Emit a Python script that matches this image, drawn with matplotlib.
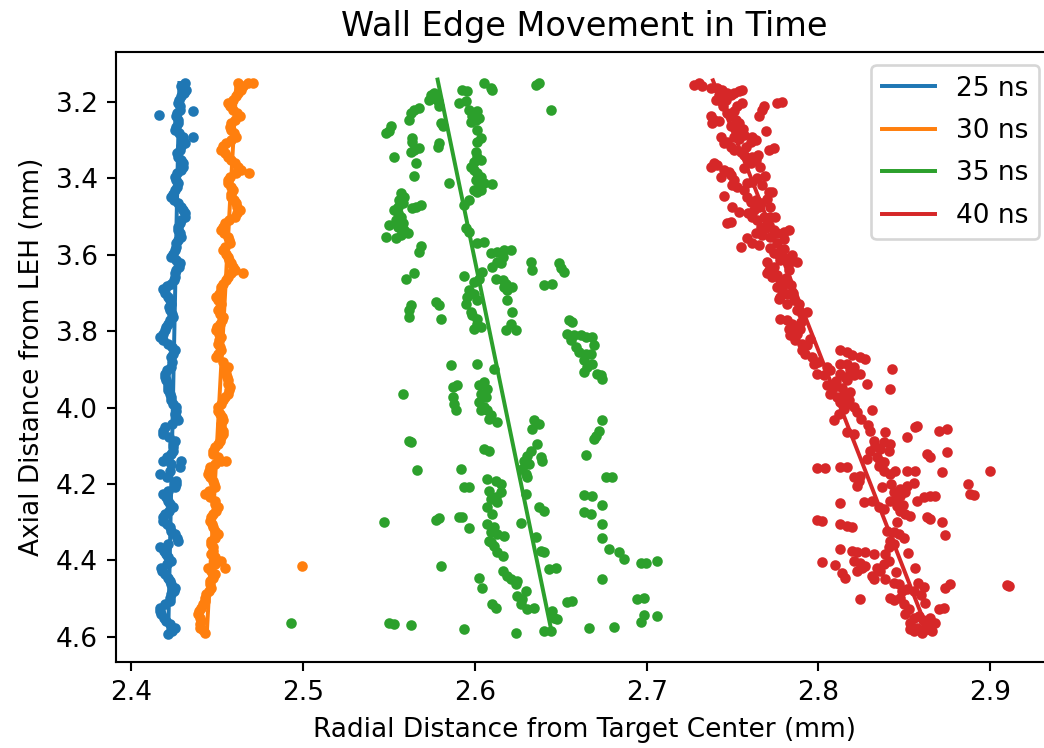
import numpy as np
import matplotlib
matplotlib.use('Agg')
import matplotlib.pyplot as plt

labels = ['25 ns', '30 ns', '35 ns', '40 ns']

# wall edge points (radial mm, axial mm)
pts_25 = [
    (2.4310, 3.151), (2.4320, 3.1685), (2.4291, 3.186), (2.4271, 3.2035), (2.4281, 3.221),
    (2.4359, 3.2254), (2.4262, 3.2385), (2.4271, 3.256), (2.4252, 3.2734), (2.4301, 3.291),
    (2.4359, 3.291), (2.4310, 3.3084), (2.4281, 3.3259), (2.4271, 3.3433), (2.4301, 3.3608),
    (2.4291, 3.3783), (2.4252, 3.3958), (2.4271, 3.4133), (2.4252, 3.4307), (2.4233, 3.4482),
    (2.4271, 3.4657), (2.4301, 3.4832), (2.4310, 3.5007), (2.4281, 3.5181), (2.4271, 3.5356),
    (2.4291, 3.5531), (2.4262, 3.5706), (2.4252, 3.5881), (2.4233, 3.6055), (2.4281, 3.6230),
    (2.4262, 3.6405), (2.4252, 3.6580), (2.4233, 3.6755), (2.4184, 3.6886), (2.4213, 3.7104),
    (2.4233, 3.7279), (2.4223, 3.7454), (2.4242, 3.7629), (2.4213, 3.7803), (2.4194, 3.7978),
    (2.4165, 3.8153), (2.4213, 3.8328), (2.4252, 3.8503), (2.4233, 3.8677), (2.4233, 3.8940),
    (2.4194, 3.9115), (2.4204, 3.9289), (2.4213, 3.9464), (2.4223, 3.9639), (2.4233, 3.9814),
    (2.4262, 3.9989), (2.4252, 4.0163), (2.4271, 4.0338), (2.4194, 4.0513), (2.4184, 4.0688),
    (2.4252, 4.0863), (2.4242, 4.1037), (2.4233, 4.1212), (2.4184, 4.1387), (2.4291, 4.1387),
    (2.4281, 4.1562), (2.4165, 4.1737), (2.4262, 4.1911), (2.4252, 4.2086), (2.4184, 4.2261),
    (2.4213, 4.2436), (2.4242, 4.2611), (2.4194, 4.2785), (2.4184, 4.2960), (2.4223, 4.3135),
    (2.4252, 4.3310), (2.4271, 4.3485), (2.4165, 4.3659), (2.4204, 4.3834), (2.4233, 4.4009),
    (2.4175, 4.4184), (2.4194, 4.4359), (2.4223, 4.4533), (2.4252, 4.4708), (2.4233, 4.4883),
    (2.4223, 4.5058), (2.4165, 4.5233), (2.4175, 4.5407), (2.4204, 4.5582), (2.4252, 4.5757),
    (2.4213, 4.5932), (2.4159, 3.2341),
]
band_25 = [
    (2.4292, 3.160), (2.4308, 3.177), (2.4278, 3.195), (2.4282, 3.212), (2.4268, 3.230),
    (2.4270, 3.247), (2.4258, 3.265), (2.4280, 3.282), (2.4300, 3.300), (2.4292, 3.317),
    (2.4268, 3.335), (2.4290, 3.352), (2.4300, 3.370), (2.4268, 3.387), (2.4258, 3.405),
    (2.4266, 3.422), (2.4240, 3.440), (2.4248, 3.457), (2.4290, 3.475), (2.4312, 3.492),
    (2.4292, 3.510), (2.4270, 3.527), (2.4286, 3.544), (2.4270, 3.562), (2.4262, 3.580),
    (2.4240, 3.597), (2.4260, 3.614), (2.4276, 3.632), (2.4254, 3.649), (2.4246, 3.667),
    (2.4206, 3.682), (2.4196, 3.700), (2.4226, 3.719), (2.4222, 3.737), (2.4236, 3.754),
    (2.4224, 3.772), (2.4200, 3.789), (2.4184, 3.807), (2.4186, 3.824), (2.4238, 3.842),
    (2.4240, 3.859), (2.4236, 3.881), (2.4210, 3.903), (2.4196, 3.920), (2.4212, 3.938),
    (2.4214, 3.955), (2.4230, 3.973), (2.4244, 3.990), (2.4260, 4.008), (2.4258, 4.025),
    (2.4236, 4.043), (2.4186, 4.060), (2.4222, 4.078), (2.4244, 4.095), (2.4240, 4.113),
    (2.4206, 4.130), (2.4232, 4.148), (2.4226, 4.165), (2.4210, 4.182), (2.4260, 4.200),
    (2.4214, 4.218), (2.4202, 4.235), (2.4224, 4.252), (2.4222, 4.270), (2.4186, 4.287),
    (2.4208, 4.305), (2.4234, 4.322), (2.4266, 4.340), (2.4214, 4.357), (2.4188, 4.375),
    (2.4214, 4.392), (2.4208, 4.410), (2.4180, 4.427), (2.4212, 4.445), (2.4234, 4.462),
    (2.4246, 4.480), (2.4224, 4.497), (2.4198, 4.515), (2.4166, 4.532), (2.4192, 4.550),
    (2.4224, 4.567), (2.4236, 4.585),
]

pts_30 = [
    (2.4620, 3.151), (2.4678, 3.151), (2.4707, 3.151), (2.4640, 3.1685), (2.4610, 3.186),
    (2.4562, 3.2035), (2.4591, 3.221), (2.4630, 3.2385), (2.4581, 3.256), (2.4581, 3.2734),
    (2.4610, 3.291), (2.4552, 3.3084), (2.4523, 3.3259), (2.4562, 3.3433), (2.4601, 3.3608),
    (2.4640, 3.3783), (2.4688, 3.3870), (2.4572, 3.3958), (2.4562, 3.4133), (2.4591, 3.4307),
    (2.4581, 3.4482), (2.4610, 3.4657), (2.4630, 3.4832), (2.4601, 3.5007), (2.4543, 3.5181),
    (2.4523, 3.5356), (2.4562, 3.5531), (2.4572, 3.5706), (2.4533, 3.5881), (2.4562, 3.6055),
    (2.4581, 3.6230), (2.4601, 3.6405), (2.4649, 3.6492), (2.4562, 3.6580), (2.4533, 3.6755),
    (2.4523, 3.6929), (2.4494, 3.7104), (2.4523, 3.7279), (2.4504, 3.7454), (2.4533, 3.7629),
    (2.4514, 3.7803), (2.4494, 3.7978), (2.4523, 3.8153), (2.4504, 3.8328), (2.4523, 3.8503),
    (2.4494, 3.8677), (2.4562, 3.8940), (2.4552, 3.9115), (2.4562, 3.9289), (2.4572, 3.9464),
    (2.4562, 3.9639), (2.4533, 3.9814), (2.4504, 3.9989), (2.4514, 4.0163), (2.4533, 4.0338),
    (2.4523, 4.0513), (2.4533, 4.0688), (2.4514, 4.0863), (2.4485, 4.1037), (2.4475, 4.1212),
    (2.4523, 4.1387), (2.4552, 4.1387), (2.4456, 4.1562), (2.4446, 4.1737), (2.4475, 4.1911),
    (2.4485, 4.2086), (2.4427, 4.2261), (2.4485, 4.2436), (2.4504, 4.2611), (2.4475, 4.2785),
    (2.4456, 4.2960), (2.4475, 4.3135), (2.4504, 4.3310), (2.4465, 4.3485), (2.4475, 4.3659),
    (2.4465, 4.3834), (2.4523, 4.4009), (2.4446, 4.4184), (2.4543, 4.4184), (2.4485, 4.4359),
    (2.4456, 4.4533), (2.4465, 4.4708), (2.4436, 4.4883), (2.4427, 4.5058), (2.4407, 4.5233),
    (2.4388, 4.5407), (2.4407, 4.5582), (2.4398, 4.5757), (2.4427, 4.5888), (2.4994, 4.414),
]
band_30 = [
    (2.4652, 3.160), (2.4622, 3.177), (2.4590, 3.195), (2.4572, 3.212), (2.4614, 3.230),
    (2.4602, 3.247), (2.4576, 3.265), (2.4600, 3.282), (2.4578, 3.300), (2.4534, 3.317),
    (2.4546, 3.335), (2.4578, 3.352), (2.4624, 3.370), (2.4610, 3.387), (2.4564, 3.405),
    (2.4580, 3.422), (2.4582, 3.440), (2.4600, 3.457), (2.4616, 3.475), (2.4618, 3.492),
    (2.4568, 3.510), (2.4536, 3.527), (2.4540, 3.544), (2.4570, 3.562), (2.4548, 3.580),
    (2.4552, 3.597), (2.4568, 3.614), (2.4594, 3.632), (2.4578, 3.649), (2.4552, 3.667),
    (2.4524, 3.684), (2.4512, 3.702), (2.4506, 3.719), (2.4518, 3.737), (2.4516, 3.754),
    (2.4526, 3.772), (2.4500, 3.789), (2.4512, 3.807), (2.4510, 3.824), (2.4518, 3.842),
    (2.4506, 3.859), (2.4532, 3.881), (2.4554, 3.903), (2.4560, 3.920), (2.4564, 3.938),
    (2.4570, 3.955), (2.4544, 3.973), (2.4522, 3.990), (2.4506, 4.008), (2.4526, 4.025),
    (2.4524, 4.043), (2.4532, 4.060), (2.4520, 4.078), (2.4502, 4.095), (2.4476, 4.113),
    (2.4502, 4.130), (2.4486, 4.148), (2.4454, 4.165), (2.4458, 4.182), (2.4482, 4.200),
    (2.4452, 4.218), (2.4460, 4.235), (2.4490, 4.252), (2.4494, 4.270), (2.4462, 4.287),
    (2.4468, 4.305), (2.4486, 4.322), (2.4488, 4.340), (2.4466, 4.357), (2.4474, 4.375),
    (2.4490, 4.392), (2.4488, 4.410), (2.4462, 4.427), (2.4474, 4.445), (2.4458, 4.462),
    (2.4454, 4.480), (2.4428, 4.497), (2.4420, 4.515), (2.4394, 4.532), (2.4402, 4.550),
    (2.4400, 4.567), (2.4416, 4.583),
]

pts_35 = [
    (2.5744, 3.1817), (2.5763, 3.1773), (2.5754, 3.1904), (2.5734, 3.1948), (2.5773, 3.1860),
    (2.5783, 3.1991), (2.6054, 3.1511), (2.6093, 3.1642), (2.6102, 3.1685), (2.5928, 3.1703),
    (2.5957, 3.1729), (2.6354, 3.1554), (2.6374, 3.1511), (2.6442, 3.2210), (2.5909, 3.2035),
    (2.5947, 3.1991), (2.5792, 3.2122), (2.5967, 3.2210), (2.5996, 3.2297), (2.6015, 3.2254),
    (2.5986, 3.2385), (2.6005, 3.2472), (2.6025, 3.2428), (2.5976, 3.2542), (2.5647, 3.2210),
    (2.5676, 3.2166), (2.5628, 3.2297), (2.5618, 3.2472), (2.5511, 3.2647), (2.5502, 3.2778),
    (2.5482, 3.2822), (2.5802, 3.2559), (2.5812, 3.2647), (2.6015, 3.2734), (2.6035, 3.2953),
    (2.6015, 3.3040), (2.5637, 3.2953), (2.5637, 3.3040), (2.5792, 3.3084), (2.5783, 3.3171),
    (2.5647, 3.3259), (2.5676, 3.3215), (2.5628, 3.3302), (2.6005, 3.3302), (2.6015, 3.3433),
    (2.6035, 3.3521), (2.5996, 3.3565), (2.5531, 3.3433), (2.5657, 3.3608), (2.5976, 3.3696),
    (2.5996, 3.3783), (2.6015, 3.3870), (2.6035, 3.3958), (2.6005, 3.4045), (2.6025, 3.4176),
    (2.6054, 3.4133), (2.6102, 3.4159), (2.5647, 3.3940), (2.5996, 3.4307), (2.6015, 3.4351),
    (2.6035, 3.4307), (2.5850, 3.4115), (2.5569, 3.4395), (2.5589, 3.4482), (2.5560, 3.4570),
    (2.5579, 3.4657), (2.5550, 3.4744), (2.5686, 3.4701), (2.5657, 3.4744), (2.5637, 3.4788),
    (2.5967, 3.4570), (2.5938, 3.4701), (2.5531, 3.4832), (2.5550, 3.4919), (2.5569, 3.5007),
    (2.5540, 3.5094), (2.5579, 3.5181), (2.5550, 3.5269), (2.5589, 3.5356), (2.5569, 3.5487),
    (2.5540, 3.5575), (2.5608, 3.5444), (2.5502, 3.5225), (2.5482, 3.5531), (2.5947, 3.5313),
    (2.5967, 3.5400), (2.6054, 3.5662), (2.6015, 3.5706), (2.5686, 3.5776), (2.5676, 3.5924),
    (2.6093, 3.5968), (2.6131, 3.5924), (2.6161, 3.6055), (2.6131, 3.6187), (2.6102, 3.6318),
    (2.6170, 3.5881), (2.6209, 3.5881), (2.6151, 3.6230), (2.6325, 3.6187), (2.6335, 3.6405),
    (2.6490, 3.6213), (2.6500, 3.6361), (2.6519, 3.6449), (2.5647, 3.6492), (2.5598, 3.6624),
    (2.5938, 3.6562), (2.6044, 3.6449), (2.6025, 3.6624), (2.5996, 3.6711), (2.6122, 3.6624),
    (2.6161, 3.6667), (2.6180, 3.6755), (2.6190, 3.6929), (2.6219, 3.6842), (2.6170, 3.6842),
    (2.6403, 3.6798), (2.6451, 3.6755), (2.5967, 3.6929), (2.5957, 3.7104), (2.5996, 3.7017),
    (2.6015, 3.7192), (2.5947, 3.7279), (2.5773, 3.7235), (2.5792, 3.7323), (2.6190, 3.7192),
    (2.5628, 3.7323), (2.5618, 3.7454), (2.5618, 3.7629), (2.5976, 3.7498), (2.5986, 3.7585),
    (2.6015, 3.7672), (2.6219, 3.7498), (2.5802, 3.7672), (2.6015, 3.7803), (2.5996, 3.7935),
    (2.6035, 3.7891), (2.6209, 3.7803), (2.6180, 3.7978), (2.6238, 3.7978), (2.6548, 3.7716),
    (2.6567, 3.7760), (2.6538, 3.8066), (2.6577, 3.8109), (2.6616, 3.8109), (2.6645, 3.8153),
    (2.6684, 3.8153), (2.6558, 3.8240), (2.6587, 3.8415), (2.6606, 3.8546), (2.6645, 3.8590),
    (2.6674, 3.8590), (2.6693, 3.8372), (2.6635, 3.8765), (2.6684, 3.8852), (2.6655, 3.8940),
    (2.5860, 3.8896), (2.6015, 3.8870), (2.6112, 3.8984), (2.6635, 3.9071), (2.6713, 3.9115),
    (2.6732, 3.9158), (2.6742, 3.9246), (2.5579, 3.9639), (2.5870, 3.9464), (2.5899, 3.9421),
    (2.6025, 3.9421), (2.6054, 3.9333), (2.6073, 3.9508), (2.6035, 3.9639), (2.6064, 3.9726),
    (2.6025, 3.9858), (2.6054, 3.9989), (2.6073, 4.0076), (2.6093, 4.0207), (2.6083, 4.0295),
    (2.6131, 4.0382), (2.6035, 4.0076), (2.5870, 3.9726), (2.5880, 3.9901), (2.5889, 4.0076),
    (2.6345, 4.0338), (2.6374, 4.0426), (2.6335, 4.0557), (2.6742, 4.0338), (2.6723, 4.0600),
    (2.6703, 4.0732), (2.6693, 4.0819), (2.5618, 4.0863), (2.5628, 4.0906), (2.6364, 4.0950),
    (2.6054, 4.1081), (2.6083, 4.1125), (2.6325, 4.1125), (2.6306, 4.1256), (2.6383, 4.1300),
    (2.6393, 4.1387), (2.6286, 4.1387), (2.6316, 4.1474), (2.6277, 4.1606), (2.6296, 4.1737),
    (2.6306, 4.1824), (2.6645, 4.1238), (2.5666, 4.1632), (2.5918, 4.1606), (2.6761, 4.1824),
    (2.6800, 4.1807), (2.6073, 4.1868), (2.6122, 4.1911), (2.6151, 4.1999), (2.6083, 4.2174),
    (2.6151, 4.2217), (2.6122, 4.2348), (2.6093, 4.2392), (2.6131, 4.2480), (2.6073, 4.2611),
    (2.6102, 4.2785), (2.6635, 4.2278), (2.6684, 4.2305), (2.6742, 4.2541), (2.5938, 4.2086),
    (2.5967, 4.2069), (2.6296, 4.2261), (2.6374, 4.2611), (2.6403, 4.2715), (2.6635, 4.2742),
    (2.6674, 4.2785), (2.6267, 4.3021), (2.5773, 4.2934), (2.5792, 4.2890), (2.5909, 4.2873),
    (2.5928, 4.2855), (2.5967, 4.3152), (2.5473, 4.3004), (2.6073, 4.3048), (2.6112, 4.3135),
    (2.6093, 4.3266), (2.6131, 4.3310), (2.6170, 4.3354), (2.6083, 4.3485), (2.6112, 4.3616),
    (2.6093, 4.3528), (2.6742, 4.3048), (2.6354, 4.3397), (2.6742, 4.3423), (2.6131, 4.3791),
    (2.6161, 4.3878), (2.6383, 4.3747), (2.6403, 4.3791), (2.6781, 4.3703), (2.6839, 4.3791),
    (2.6868, 4.3965), (2.6965, 4.4053), (2.6994, 4.4070), (2.7062, 4.4009), (2.5802, 4.4140),
    (2.6161, 4.4271), (2.6190, 4.4402), (2.6209, 4.4490), (2.6248, 4.4533), (2.6238, 4.4621),
    (2.6432, 4.4228), (2.6471, 4.4184), (2.6025, 4.4446), (2.6044, 4.4708), (2.6742, 4.4490),
    (2.6296, 4.4796), (2.6248, 4.4927), (2.6277, 4.5014), (2.6538, 4.5075), (2.6567, 4.5058),
    (2.6945, 4.5014), (2.6984, 4.4970), (2.6102, 4.5145), (2.6122, 4.5233), (2.6267, 4.5128),
    (2.6306, 4.5276), (2.6345, 4.5250), (2.6451, 4.5320), (2.6480, 4.5539), (2.6461, 4.5495),
    (2.6984, 4.5425), (2.7062, 4.5451), (2.6965, 4.5608), (2.5502, 4.5643), (2.5531, 4.5670),
    (2.5628, 4.5696), (2.5938, 4.5801), (2.6238, 4.5888), (2.6403, 4.5845), (2.6442, 4.5845),
    (2.6664, 4.5757), (2.6810, 4.5731), (2.4930, 4.5630),
]

pts_40 = [
    (2.7276, 3.1554), (2.7305, 3.1511), (2.7324, 3.1598), (2.7372, 3.1642), (2.7411, 3.1642),
    (2.7440, 3.1685), (2.7421, 3.1817), (2.7450, 3.1860), (2.7469, 3.1773), (2.7489, 3.1817),
    (2.7508, 3.1773), (2.7537, 3.1729), (2.7557, 3.1685), (2.7401, 3.1948), (2.7431, 3.1991),
    (2.7460, 3.1948), (2.7557, 3.2035), (2.7527, 3.2122), (2.7683, 3.2122), (2.7673, 3.2210),
    (2.7760, 3.2035), (2.7789, 3.2009), (2.7653, 3.2385), (2.7372, 3.2385), (2.7392, 3.2472),
    (2.7421, 3.2516), (2.7382, 3.2559), (2.7508, 3.2254), (2.7489, 3.2385), (2.7518, 3.2472),
    (2.7537, 3.2559), (2.7489, 3.2647), (2.7518, 3.2734), (2.7547, 3.2822), (2.7566, 3.2865),
    (2.7508, 3.2909), (2.7431, 3.2909), (2.7615, 3.2909), (2.7634, 3.2996), (2.7605, 3.3040),
    (2.7692, 3.2778), (2.7469, 3.3040), (2.7450, 3.3084), (2.7489, 3.3171), (2.7508, 3.3259),
    (2.7547, 3.3302), (2.7566, 3.3390), (2.7586, 3.3477), (2.7615, 3.3433), (2.7634, 3.3521),
    (2.7605, 3.3608), (2.7712, 3.3259), (2.7741, 3.3215), (2.7392, 3.3608), (2.7411, 3.3652),
    (2.7372, 3.3696), (2.7450, 3.3783), (2.7479, 3.3827), (2.7431, 3.3958), (2.7489, 3.3914),
    (2.7508, 3.4045), (2.7498, 3.4176), (2.7527, 3.4220), (2.7566, 3.3739), (2.7586, 3.4133),
    (2.7615, 3.4089), (2.7673, 3.4176), (2.7712, 3.4351), (2.7731, 3.4351), (2.7450, 3.4465),
    (2.7566, 3.4307), (2.7586, 3.4482), (2.7605, 3.4613), (2.7634, 3.4570), (2.7653, 3.4744),
    (2.7663, 3.4657), (2.7624, 3.4832), (2.7498, 3.4744), (2.7537, 3.4876), (2.7489, 3.5138),
    (2.7469, 3.5181), (2.7615, 3.5007), (2.7644, 3.5094), (2.7683, 3.5007), (2.7721, 3.5007),
    (2.7750, 3.5007), (2.7663, 3.5269), (2.7692, 3.5313), (2.7712, 3.5225), (2.7741, 3.5356),
    (2.7634, 3.5444), (2.7673, 3.5487), (2.7721, 3.5531), (2.7760, 3.5444), (2.7799, 3.5400),
    (2.7828, 3.5356), (2.7586, 3.5575), (2.7615, 3.5706), (2.7653, 3.5750), (2.7547, 3.5793),
    (2.7721, 3.5837), (2.7741, 3.5968), (2.7770, 3.6012), (2.7779, 3.6143), (2.7808, 3.6099),
    (2.7847, 3.6012), (2.7876, 3.6187), (2.7828, 3.6230), (2.7741, 3.6318), (2.7712, 3.6405),
    (2.7702, 3.6492), (2.7731, 3.6580), (2.7760, 3.6536), (2.7779, 3.6667), (2.7760, 3.6842),
    (2.7789, 3.6929), (2.7818, 3.7017), (2.7799, 3.6755), (2.7770, 3.7148), (2.7779, 3.7104),
    (2.7857, 3.7192), (2.7886, 3.7279), (2.7876, 3.7454), (2.7905, 3.7541), (2.7934, 3.7498),
    (2.7779, 3.7672), (2.7818, 3.7716), (2.7847, 3.7803), (2.7828, 3.7935), (2.7857, 3.7891),
    (2.7876, 3.8066), (2.7837, 3.8109), (2.7866, 3.8240), (2.7905, 3.8328), (2.7934, 3.8372),
    (2.7905, 3.8503), (2.7963, 3.8677), (2.7973, 3.8852), (2.8128, 3.8503), (2.8167, 3.8546),
    (2.8196, 3.8634), (2.8245, 3.8677), (2.8274, 3.8721), (2.8128, 3.8852), (2.8167, 3.8852),
    (2.8206, 3.8940), (2.8429, 3.8983), (2.7993, 3.9115), (2.8031, 3.9158), (2.8070, 3.9027),
    (2.8128, 3.9115), (2.8157, 3.9202), (2.8186, 3.9027), (2.8206, 3.9158), (2.8167, 3.9289),
    (2.8245, 3.9115), (2.8051, 3.9421), (2.8089, 3.9464), (2.8070, 3.9639), (2.8109, 3.9726),
    (2.8148, 3.9683), (2.8186, 3.9595), (2.8128, 3.9858), (2.8167, 3.9901), (2.8206, 3.9989),
    (2.8148, 4.0032), (2.8225, 4.0120), (2.8119, 4.0163), (2.8089, 4.0338), (2.8283, 3.9377),
    (2.8419, 3.9508), (2.8312, 4.0076), (2.8167, 4.0644), (2.8206, 4.0688), (2.8390, 4.0644),
    (2.8322, 4.0863), (2.8380, 4.0906), (2.8419, 4.0950), (2.8409, 4.1125), (2.8361, 4.1081),
    (2.8303, 4.1125), (2.8516, 4.0775), (2.8574, 4.0469), (2.8564, 4.0513), (2.8700, 4.0600),
    (2.8748, 4.0557), (2.8632, 4.1212), (2.8651, 4.1300), (2.8341, 4.1300), (2.8361, 4.1387),
    (2.8380, 4.1431), (2.8351, 4.1518), (2.8748, 4.1168), (2.7993, 4.1579), (2.8041, 4.1579),
    (2.8128, 4.1544), (2.8167, 4.1544), (2.8419, 4.1737), (2.8448, 4.1649), (2.8516, 4.1649),
    (2.8564, 4.1649), (2.8719, 4.1693), (2.8206, 4.1824), (2.8235, 4.1911), (2.8245, 4.1780),
    (2.8225, 4.2043), (2.8370, 4.2069), (2.8477, 4.2130), (2.8516, 4.2043), (2.8555, 4.1981),
    (2.8506, 4.2217), (2.8477, 4.2305), (2.8458, 4.2392), (2.8574, 4.2436), (2.8613, 4.2348),
    (2.8651, 4.2305), (2.8681, 4.2305), (2.8128, 4.2506), (2.8264, 4.2480), (2.8312, 4.2453),
    (2.8351, 4.2611), (2.8380, 4.2654), (2.8419, 4.2436), (2.8458, 4.2567), (2.8477, 4.2698),
    (2.8506, 4.2785), (2.8535, 4.2829), (2.8632, 4.2873), (2.8651, 4.2916), (2.8719, 4.2986),
    (2.7993, 4.2943), (2.8022, 4.2960), (2.8128, 4.3048), (2.8167, 4.3091), (2.8196, 4.3118),
    (2.8400, 4.3222), (2.8438, 4.3266), (2.8467, 4.3310), (2.8419, 4.3485), (2.8438, 4.3572),
    (2.8409, 4.3659), (2.8739, 4.3327), (2.8128, 4.3703), (2.8196, 4.3747), (2.8225, 4.3791),
    (2.8274, 4.3791), (2.8322, 4.3834), (2.8390, 4.3834), (2.8022, 4.4035), (2.8099, 4.4114),
    (2.8206, 4.4009), (2.8245, 4.4053), (2.8274, 4.4140), (2.8254, 4.4184), (2.8225, 4.4271),
    (2.8341, 4.4184), (2.8361, 4.4271), (2.8380, 4.4096), (2.8409, 4.4009), (2.8138, 4.4315),
    (2.8157, 4.4446), (2.8312, 4.4402), (2.8322, 4.4490), (2.8390, 4.4490), (2.8438, 4.4577),
    (2.8467, 4.4621), (2.8487, 4.4796), (2.8516, 4.4752), (2.8555, 4.4796), (2.8613, 4.4682),
    (2.8739, 4.4708), (2.8244, 4.5014), (2.8419, 4.4987), (2.8438, 4.5040), (2.8477, 4.4970),
    (2.8496, 4.5145), (2.8525, 4.5276), (2.8506, 4.5407), (2.8555, 4.5495), (2.8584, 4.5451),
    (2.8535, 4.5626), (2.8574, 4.5757), (2.8603, 4.5888), (2.8622, 4.5757), (2.8632, 4.5670),
    (2.8681, 4.5626), (2.8700, 4.5276), (2.8729, 4.5233), (2.8535, 4.5801), (2.8555, 4.5845),
    (2.8996, 4.1666), (2.8868, 4.1998), (2.8884, 4.2261), (2.8903, 4.2287), (2.8768, 4.4620),
    (2.9097, 4.4638), (2.9112, 4.4655),
]
band_40 = [
    (2.7445, 3.2120), (2.7470, 3.2300), (2.7560, 3.2700), (2.7540, 3.2980), (2.7580, 3.3180),
    (2.7650, 3.3380), (2.7660, 3.3700), (2.7690, 3.3950), (2.7640, 3.4000), (2.7700, 3.4550),
    (2.7720, 3.4750), (2.7590, 3.4900), (2.7700, 3.5100), (2.7800, 3.5600), (2.7760, 3.5700),
    (2.7800, 3.5850), (2.7700, 3.6200), (2.7830, 3.6400), (2.7810, 3.6600), (2.7840, 3.6800),
    (2.7850, 3.7000), (2.7820, 3.7300), (2.7900, 3.7750), (2.7890, 3.7950), (2.7950, 3.8200),
    (2.7920, 3.8600), (2.8000, 3.8800), (2.8050, 3.8950), (2.8100, 3.9300), (2.8140, 3.9480),
    (2.8180, 3.9800), (2.8250, 4.0300), (2.8290, 4.0450), (2.8300, 4.0600), (2.8330, 4.1000),
    (2.8280, 4.1350), (2.8380, 4.1650), (2.8420, 4.2000), (2.8440, 4.2200), (2.8490, 4.2550),
    (2.8460, 4.3000), (2.8500, 4.3400), (2.8520, 4.3800), (2.8560, 4.4200), (2.8450, 4.4300),
    (2.8580, 4.4600), (2.8600, 4.4900), (2.8620, 4.5100), (2.8650, 4.5500), (2.8610, 4.5550),
    (2.8660, 4.5850),
]

# linear fit of each edge: (x at top, x at bottom), (y top, y bottom)
fit_x = [(2.4280, 2.4215), (2.4612, 2.4440), (2.5783, 2.6442), (2.7386, 2.8641)]
fit_y = [(3.151, 4.593), (3.151, 4.589), (3.142, 4.576), (3.144, 4.589)]

all_pts = [pts_25 + band_25, pts_30 + band_30, pts_35, pts_40 + band_40]
colors = ['C0', 'C1', 'C2', 'C3']

fig = plt.figure(figsize=(1044 / 190, 748 / 190), dpi=190)
ax = fig.add_axes([0.1111, 0.115, 0.8966, 0.8155])

for pts, fx, fy, c, lab in zip(all_pts, fit_x, fit_y, colors, labels):
    arr = np.array(pts)
    ax.plot(arr[:, 0], arr[:, 1], '.', color=c)
    ax.plot(fx, fy, '-', color=c, label=lab)

ax.set_xlim(2.3911, 2.936)
ax.set_ylim(4.6655, 3.0698)
ax.set_xticks([2.4, 2.5, 2.6, 2.7, 2.8, 2.9])
ax.set_title('Wall Edge Movement in Time', fontsize=12.7)
ax.set_xlabel('Radial Distance from Target Center (mm)')
ax.set_ylabel('Axial Distance from LEH (mm)')
ax.legend(loc='upper right', labelspacing=0.62)

fig.savefig('out.png', dpi=190)
